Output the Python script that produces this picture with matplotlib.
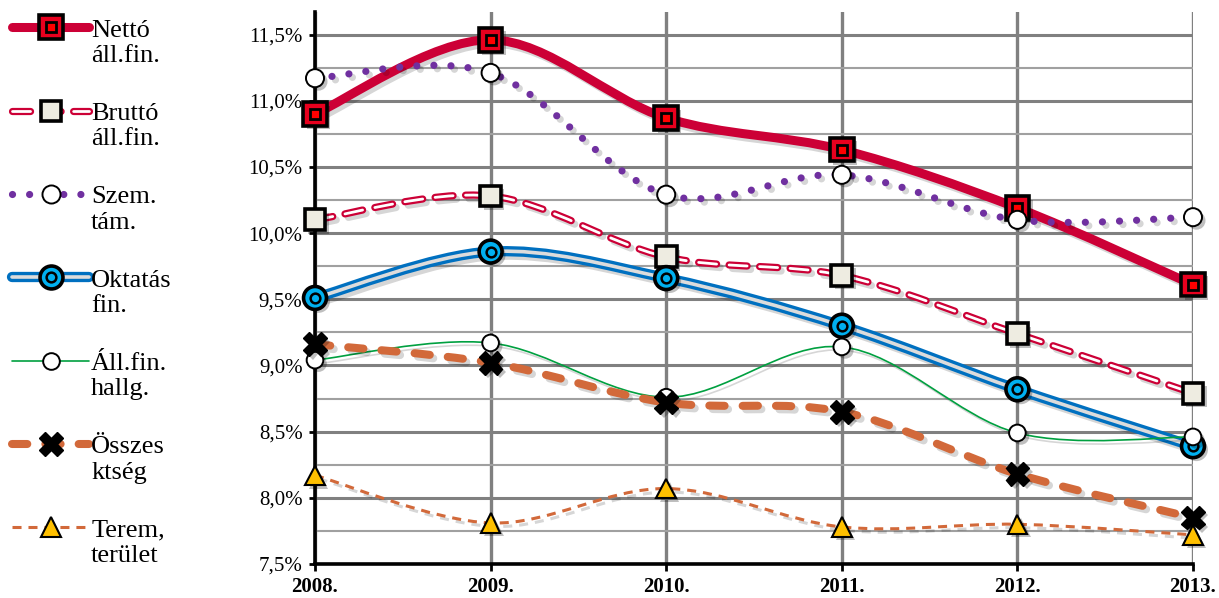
import numpy as np
import matplotlib
matplotlib.use('Agg')
import matplotlib.pyplot as plt
import matplotlib.patheffects as pe
from matplotlib.path import Path
from matplotlib.patches import PathPatch
from matplotlib.lines import Line2D
from matplotlib.legend_handler import HandlerLine2D
from matplotlib.ticker import MultipleLocator, FuncFormatter

plt.rcParams['font.family'] = ['Liberation Serif', 'DejaVu Serif']
plt.rcParams['lines.scale_dashes'] = False

years = [2008, 2009, 2010, 2011, 2012, 2013]
year_labels = ['2008.', '2009.', '2010.', '2011.', '2012.', '2013.']

netto = [10.90, 11.46, 10.87, 10.63, 10.19, 9.61]
brutto = [10.10, 10.28, 9.82, 9.68, 9.24, 8.79]
szem = [11.17, 11.21, 10.29, 10.44, 10.10, 10.12]
oktatas = [9.51, 9.86, 9.66, 9.30, 8.82, 8.39]
hallg = [9.04, 9.17, 8.76, 9.14, 8.49, 8.46]
osszes = [9.16, 9.02, 8.72, 8.65, 8.18, 7.85]
terem = [8.17, 7.81, 8.07, 7.78, 7.80, 7.72]

series_labels = ['Nettó\náll.fin.', 'Bruttó\náll.fin.', 'Szem.\ntám.',
                 'Oktatás\nfin.', 'Áll.fin.\nhallg.', 'Összes\nktség',
                 'Terem,\nterület']
series_values = [netto, brutto, szem, oktatas, hallg, osszes, terem]

CRIMSON = '#CC0036'
ORANGE = '#D2693A'

# line layers: (colour, width pt, dash pattern or None, capstyle)
line_styles = [
    [(CRIMSON, 6.5, None, 'round')],
    [(CRIMSON, 5.2, (13, 9), 'round'), ('white', 2.0, (13, 9), 'round')],
    [('#7030A0', 5.2, (0.01, 12.3), 'round')],
    [('#0070C0', 7.4, None, 'round'), ('#DCDCDC', 2.6, None, 'round')],
    [('#00A040', 1.2, None, 'round')],
    [(ORANGE, 5.8, (11, 13), 'round')],
    [(ORANGE, 2.2, (6.5, 5), 'butt')],
]
# marker layers: (marker, size, face, edge, edge width)
marker_styles = [
    [('s', 17, '#E8001E', 'black', 2.6), ('s', 7.5, '#FF0000', 'black', 2.0)],
    [('s', 15, '#EEECE1', 'black', 2.6)],
    [('o', 13, 'white', 'black', 1.4)],
    [('o', 16.5, '#00B0F0', 'black', 2.6), ('o', 7, '#00B0F0', 'black', 1.8)],
    [('o', 12, 'white', 'black', 1.4)],
    [('X', 17, 'black', 'black', 1.0)],
    [('^', 14, '#FFC000', 'black', 1.5)],
]


def smooth_path(xs, ys):
    # Catmull-Rom style cubic Bezier through the points
    p = np.column_stack([xs, ys]).astype(float)
    ext = np.vstack([p[0], p, p[-1]])
    verts = [p[0]]
    codes = [Path.MOVETO]
    for i in range(len(p) - 1):
        p0, p1, p2, p3 = ext[i], ext[i + 1], ext[i + 2], ext[i + 3]
        verts += [p1 + (p2 - p0) / 6, p2 - (p3 - p1) / 6, p2]
        codes += [Path.CURVE4] * 3
    return Path(verts, codes)


class FirstLineHandler(HandlerLine2D):
    # keep the legend sample level with the first line of a two-line label
    def create_artists(self, legend, orig_handle, xdescent, ydescent,
                       width, height, fontsize, trans):
        arts = super().create_artists(legend, orig_handle, xdescent, ydescent,
                                      width, height, fontsize, trans)
        for a in arts:
            a.set_ydata(np.asarray(a.get_ydata()) + 0.58 * fontsize)
        return arts


line_shadow = [pe.SimpleLineShadow(offset=(2.5, -2.5), shadow_color='black', alpha=0.16),
               pe.Normal()]
mark_shadow = [pe.SimplePatchShadow(offset=(2.5, -2.5), shadow_rgbFace='black', alpha=0.25),
               pe.Normal()]

fig = plt.figure(figsize=(12.19, 5.98), dpi=100)
ax = fig.add_axes([315 / 1219, 1 - 564 / 598, (1193 - 315) / 1219, (564 - 12) / 598])

handles = []
for i, vals in enumerate(series_values):
    z = 3 + i
    parts = []
    for k, (c, lw, dash, cap) in enumerate(line_styles[i]):
        patch = PathPatch(smooth_path(years, vals), fill=False, edgecolor=c,
                          linewidth=lw, zorder=z + 0.01 * k, clip_on=False)
        patch.set_capstyle(cap)
        patch.set_joinstyle('round')
        if dash is not None:
            patch.set_linestyle((0, dash))
        if k == 0:
            patch.set_path_effects(line_shadow)
        ax.add_patch(patch)
        parts.append(Line2D([], [], color=c, lw=lw,
                            linestyle='-' if dash is None else (0, dash),
                            dash_capstyle=cap, solid_capstyle=cap))
    for k, (m, ms, fc, ec, mew) in enumerate(marker_styles[i]):
        ax.plot(years, vals, linestyle='none', marker=m, markersize=ms,
                markerfacecolor=fc, markeredgecolor=ec, markeredgewidth=mew,
                zorder=z + 0.5 + 0.01 * k, clip_on=False,
                path_effects=mark_shadow if k == 0 else None)
        parts.append(Line2D([], [], linestyle='none', marker=m, markersize=ms,
                            markerfacecolor=fc, markeredgecolor=ec,
                            markeredgewidth=mew))
    handles.append(tuple(parts))

ax.set_xlim(2008, 2013)
ax.set_ylim(7.5, 11.67)
ax.set_xticks(years)
ax.set_xticklabels(year_labels, fontsize=15, fontweight='bold')
ax.yaxis.set_major_locator(MultipleLocator(0.5))
ax.yaxis.set_minor_locator(MultipleLocator(0.25))
ax.yaxis.set_major_formatter(FuncFormatter(lambda v, p: f'{v:.1f}%'.replace('.', ',')))
ax.tick_params(axis='y', which='major', length=4, width=2, direction='out',
               labelsize=15, pad=5)
ax.tick_params(axis='y', which='minor', length=0)
ax.tick_params(axis='x', length=5, width=2, direction='out', pad=4)

ax.set_axisbelow(True)
ax.grid(axis='y', which='major', color='#808080', lw=2.2)
ax.grid(axis='y', which='minor', color='#A0A0A0', lw=1.5)
ax.grid(axis='x', which='major', color='#808080', lw=2.4)
for s in ['top', 'right']:
    ax.spines[s].set_visible(False)
for s in ['left', 'bottom']:
    ax.spines[s].set_linewidth(2.6)
    ax.spines[s].set_zorder(2.5)

fig.legend(handles, series_labels, loc='upper left', bbox_to_anchor=(-0.006, 1.0),
           frameon=False, fontsize=19, handlelength=2.9, handletextpad=0.08,
           labelspacing=1.36, borderpad=0.45, borderaxespad=0.3, numpoints=1,
           handler_map={Line2D: FirstLineHandler()})

fig.savefig('out.png', dpi=100)
